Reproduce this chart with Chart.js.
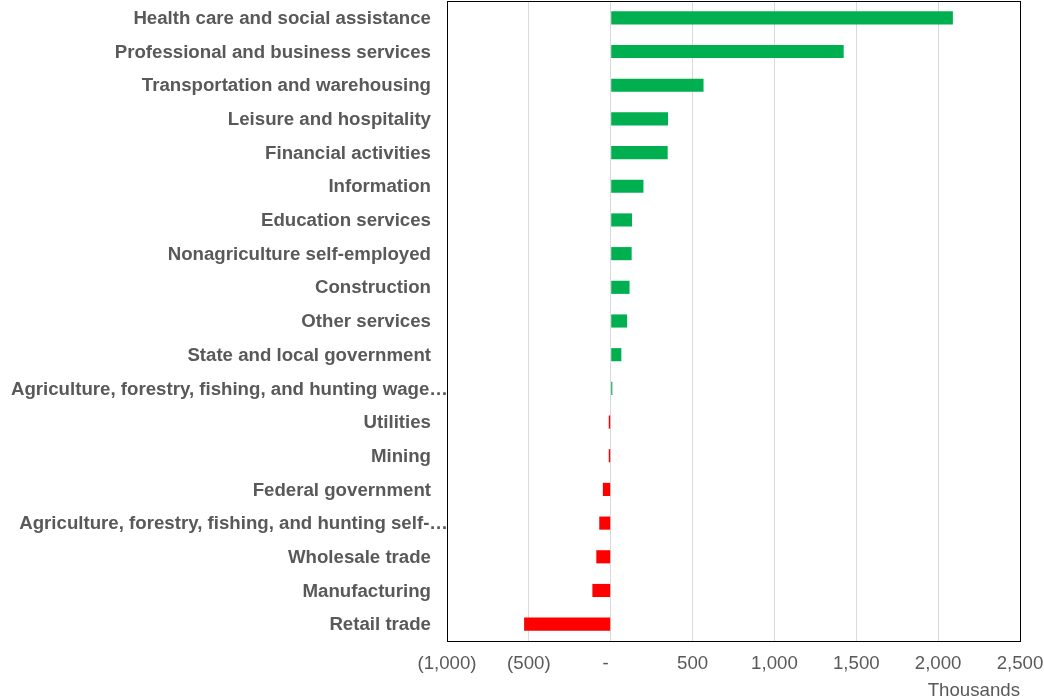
<!DOCTYPE html>
<html>
<head>
<meta charset="utf-8">
<script src="https://cdn.jsdelivr.net/npm/chart.js@4/dist/chart.umd.min.js"></script>
<style>
  html, body { margin: 0; padding: 0; background: #ffffff; }
  #wrap { width: 1044px; height: 700px; position: relative; }
</style>
</head>
<body>
<div id="wrap"><canvas id="chart" width="1044" height="700"></canvas></div>
<script>
// Employment change by industry (thousands)
const industries = [
  "Health care and social assistance",
  "Professional and business services",
  "Transportation and warehousing",
  "Leisure and hospitality",
  "Financial activities",
  "Information",
  "Education services",
  "Nonagriculture self-employed",
  "Construction",
  "Other services",
  "State and local government",
  "Agriculture, forestry, fishing, and hunting wage\u2026",
  "Utilities",
  "Mining",
  "Federal government",
  "Agriculture, forestry, fishing, and hunting self-\u2026",
  "Wholesale trade",
  "Manufacturing",
  "Retail trade"
];

const employmentChange = [
  2090, 1423, 567, 350, 348, 200, 130, 128, 115, 100, 65, 10,
  -12, -12, -48, -70, -88, -112, -529
];

const xTickValues = [-1000, -500, 0, 500, 1000, 1500, 2000, 2500];
const xTickLabels = ["(1,000)", "(500)", "-  ", "500", "1,000", "1,500", "2,000", "2,500"];

const GAIN = "#00B050";
const LOSS = "#FF0000";
const TEXT = "#595959";
const FONT = "'Liberation Sans', Arial, sans-serif";
const FONT_SIZE = 18.67;

// Frame around the plot area
const plotFrame = {
  id: "plotFrame",
  afterDraw(chart) {
    const { ctx, chartArea: a } = chart;
    ctx.save();
    ctx.strokeStyle = "#000000";
    ctx.lineWidth = 1;
    ctx.strokeRect(Math.round(a.left) + 0.5, Math.round(a.top) + 0.5,
                   Math.round(a.right - a.left), Math.round(a.bottom - a.top));
    ctx.restore();
  }
};

// Category labels: right-aligned beside the axis; truncated ones fill the label box
const categoryLabels = {
  id: "categoryLabels",
  afterDraw(chart) {
    const { ctx, chartArea: a } = chart;
    const y = chart.scales.y;
    ctx.save();
    ctx.font = "bold " + FONT_SIZE + "px " + FONT;
    ctx.fillStyle = TEXT;
    ctx.textAlign = "right";
    ctx.textBaseline = "middle";
    industries.forEach((label, i) => {
      const py = y.getPixelForTick(i);
      const right = label.endsWith("\u2026") ? a.left + 1 : a.left - 16;
      ctx.fillText(label, right, py + 1);
    });
    ctx.restore();
  }
};

new Chart(document.getElementById("chart"), {
  type: "bar",
  data: {
    labels: industries,
    datasets: [{
      data: employmentChange,
      backgroundColor: ctx => (ctx.raw >= 0 ? GAIN : LOSS),
      borderWidth: 0,
      barPercentage: 0.39,
      categoryPercentage: 1.0
    }]
  },
  options: {
    indexAxis: "y",
    responsive: false,
    animation: false,
    layout: { padding: { left: 0, right: 24, top: 1, bottom: 0 } },
    plugins: {
      legend: { display: false },
      tooltip: { enabled: false }
    },
    scales: {
      x: {
        type: "linear",
        min: -1000,
        max: 2500,
        afterBuildTicks(scale) {
          scale.ticks = xTickValues.map(v => ({ value: v }));
        },
        afterFit(scale) {
          scale.height = 59;
          scale.paddingLeft = 0;
          scale.paddingRight = 0;
        },
        grid: { color: "#D9D9D9", lineWidth: 1, drawTicks: false },
        border: { display: false },
        ticks: {
          color: TEXT,
          font: { family: FONT, size: FONT_SIZE },
          padding: 12,
          maxRotation: 0,
          autoSkip: false,
          callback: v => xTickLabels[xTickValues.indexOf(v)]
        },
        title: {
          display: true,
          text: "Thousands",
          align: "end",
          color: TEXT,
          font: { family: FONT, size: FONT_SIZE, lineHeight: 1.0 },
          padding: { top: 0, bottom: 0 }
        }
      },
      y: {
        type: "category",
        afterFit(scale) { scale.width = 447; },
        grid: { display: false },
        border: { display: false },
        ticks: { display: false }
      }
    }
  },
  plugins: [plotFrame, categoryLabels]
});
</script>
</body>
</html>
